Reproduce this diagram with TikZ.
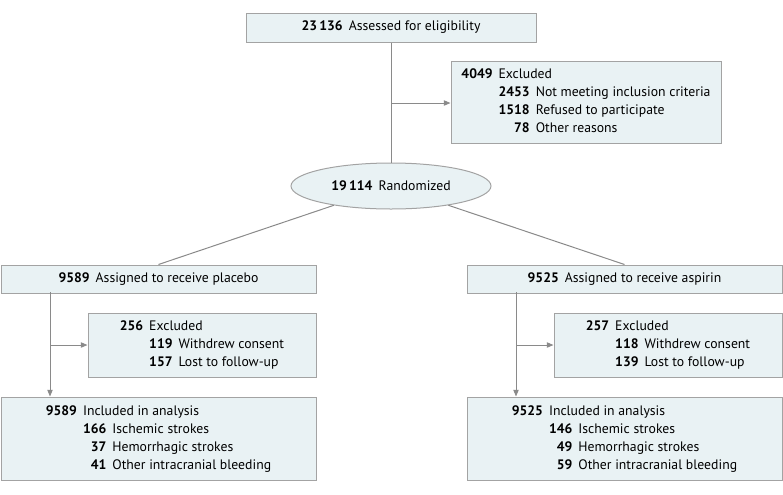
\documentclass[tikz,border=0pt]{standalone}
\usepackage{fontspec}
\setmainfont{PT Sans}
\usepackage{xcolor}
\usetikzlibrary{shapes.geometric,arrows.meta}
\definecolor{boxfill}{HTML}{E9F2F4}
\definecolor{boxline}{HTML}{A3A3A3}
\definecolor{linkline}{HTML}{8A8A8A}
\newcommand{\cnt}[1]{\textbf{#1}\hspace{4.5pt}}
\newcommand{\flowlist}[2]{\begin{tabular}{@{}r@{\hspace{4.5pt}}r@{\hspace{4.5pt}}l@{}}#1\\#2\end{tabular}}
\tikzset{
  flowbox/.style={draw=boxline, fill=boxfill, line width=0.75pt, inner sep=0pt,
    font=\fontsize{10.3}{13.5}\selectfont},
  flowlink/.style={draw=linkline, line width=0.75pt},
  flowarrow/.style={flowlink, -{Triangle[length=5pt,width=4pt]}, color=linkline}
}

\begin{document}
\begin{tikzpicture}[x=0.75pt, y=-0.75pt]
\useasboundingbox (0,0) rectangle (783,494);

\node (assess) at (391,27.5) [flowbox, minimum width=217.5pt, minimum height=21.75pt] {\cnt{23\,136}Assessed for eligibility};
\node (excl) at (586,102) [flowbox, minimum width=202.5pt, minimum height=61.5pt] {\flowlist{\textbf{4049} & \multicolumn{2}{@{}l@{}}{Excluded}}{& \textbf{2453} & Not meeting inclusion criteria\\ & \textbf{1518} & Refused to participate\\ & \textbf{78} & Other reasons}};
\node (rand) at (391,186) [flowbox, ellipse, minimum width=150pt, minimum height=34.5pt] {\cnt{19\,114}Randomized};

\node (placebo) at (158.5,279) [flowbox, minimum width=236.25pt, minimum height=21pt] {\cnt{9589}Assigned to receive placebo};
\node (aspirin) at (624.5,279) [flowbox, minimum width=236.25pt, minimum height=21pt] {\cnt{9525}Assigned to receive aspirin};

\node (exclP) at (202,345) [flowbox, minimum width=171pt, minimum height=48pt] {\flowlist{\textbf{256} & \multicolumn{2}{@{}l@{}}{Excluded}}{& \textbf{119} & Withdrew consent\\ & \textbf{157} & Lost to follow-up}};
\node (exclA) at (668,345) [flowbox, minimum width=171pt, minimum height=48pt] {\flowlist{\textbf{257} & \multicolumn{2}{@{}l@{}}{Excluded}}{& \textbf{118} & Withdrew consent\\ & \textbf{139} & Lost to follow-up}};

\node (inclP) at (158.5,438.5) [flowbox, minimum width=236.25pt, minimum height=62.25pt] {\flowlist{\textbf{9589} & \multicolumn{2}{@{}l@{}}{Included in analysis}}{& \textbf{166} & Ischemic strokes\\ & \textbf{37} & Hemorrhagic strokes\\ & \textbf{41} & Other intracranial bleeding}};
\node (inclA) at (624.5,438.5) [flowbox, minimum width=236.25pt, minimum height=62.25pt] {\flowlist{\textbf{9525} & \multicolumn{2}{@{}l@{}}{Included in analysis}}{& \textbf{146} & Ischemic strokes\\ & \textbf{49} & Hemorrhagic strokes\\ & \textbf{59} & Other intracranial bleeding}};

% screening
\coordinate (sj) at (391,103);
\draw [flowlink] (assess) -- (rand);
\draw [flowarrow] (sj) -- (sj -| excl.west);

% allocation
\draw [flowlink] (rand) -- (placebo.north);
\draw [flowlink] (rand) -- (aspirin.north);

% follow-up
\coordinate (pj) at (50,292);
\coordinate (aj) at (516,292);
\draw [flowarrow] (pj) -- (pj |- inclP.north);
\draw [flowarrow] (pj |- exclP) -- (exclP.west);
\draw [flowarrow] (aj) -- (aj |- inclA.north);
\draw [flowarrow] (aj |- exclA) -- (exclA.west);
\end{tikzpicture}
\end{document}
